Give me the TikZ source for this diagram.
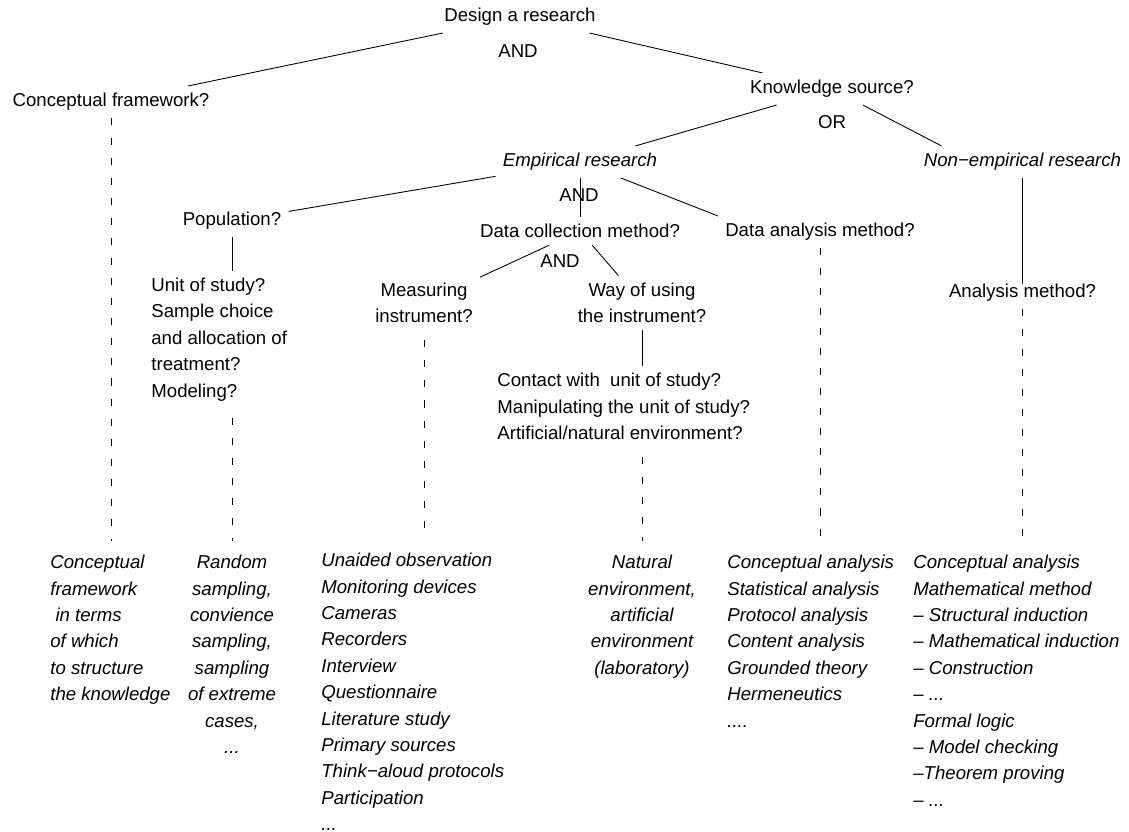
\documentclass[tikz,border=0pt]{standalone}
\usepackage{fontspec}
\setmainfont{Liberation Sans}
\usepackage{tikz}
\tikzstyle{question} = [inner sep=4pt, font=\fontsize{10.6}{15}\selectfont, align=center]
\tikzstyle{junction} = [inner sep=0pt, font=\fontsize{10.6}{15}\selectfont]
\tikzstyle{answer} = [inner sep=0pt, font=\fontsize{10.6}{15}\selectfont\itshape]
\tikzstyle{link} = [line width=0.5pt]
\tikzstyle{dashlink} = [line width=0.5pt, dash pattern=on 4pt off 7.4pt, shorten >=0.28cm]

\begin{document}
\begin{tikzpicture}
			\useasboundingbox (0,0) rectangle (22.58,-16.64);
			\node[question] (1) at (10.40,-0.34) {Design a research};
			\node[junction] (2) at (10.36,-1.02) {AND};
			\node[question] (3) at (2.22,-2.04) {Conceptual framework?};
			\node[question] (4) at (16.64,-1.78) {Knowledge source?};
			\node[junction] (5) at (16.64,-2.44) {OR};
			\node[question] (6) at (11.60,-3.24) {\textit{Empirical research}};
			\node[question] (7) at (20.45,-3.24) {\textit{Non−empirical research}};
			\node[junction] (8) at (11.58,-3.90) {AND};
			\node[question] (9) at (4.64,-4.42) {Population?};
			\node[question] (10) at (11.60,-4.62) {Data collection method?};
			\node[question] (11) at (16.40,-4.64) {Data analysis method?};
			\node[junction] (12) at (11.20,-5.22) {AND};
			\node[question] (13) at (8.48,-6.06) {Measuring\\instrument?};
			\node[question] (14) at (12.84,-6.06) {Way of using\\the instrument?};
			\node[question, align=left, anchor=west] (15) at (2.88,-6.79) {Unit of study?\\Sample choice\\and allocation of\\treatment?\\Modeling?};
			\node[question] (16) at (20.45,-5.86) {Analysis method?};
			\node[question, align=left, anchor=west] (17) at (9.80,-8.13) {Contact with\ \ unit of study?\\Manipulating the unit of study?\\Artificial/natural environment?};
			
			\node[answer, align=left, anchor=north west] (18) at (1.00,-11.10) {Conceptual\\framework\\\ in terms\\of which\\to structure\\the knowledge};
			\node[answer, align=center, anchor=north] (19) at (4.64,-11.10) {Random\\sampling,\\convience\\sampling,\\sampling\\of extreme\\cases,\\...};
			\node[answer, align=left, anchor=north west] (20) at (6.42,-11.06) {Unaided observation\\Monitoring devices\\Cameras\\Recorders\\Interview\\Questionnaire\\Literature study\\Primary sources\\Think−aloud protocols\\Participation\\...};
			\node[answer, align=center, anchor=north] (21) at (12.84,-11.10) {Natural\\environment,\\artificial\\environment\\(laboratory)};
			\node[answer, align=left, anchor=north west] (22) at (14.54,-11.10) {Conceptual analysis\\Statistical analysis\\Protocol analysis\\Content analysis\\Grounded theory\\Hermeneutics\\....};
			\node[answer, align=left, anchor=north west] (23) at (18.26,-11.10) {Conceptual analysis\\Mathematical method\\– Structural induction\\– Mathematical induction\\– Construction\\– ...\\Formal logic\\– Model checking\\–Theorem proving\\– ...};
			
			\draw [link] (1) -- (3);
			\draw [link] (1) -- (4);
			\draw [link] (4) -- (6);
			\draw [link] (4) -- ([xshift=0.5cm]7.north west);
			\draw [link] (6) -- (9);
			\draw [link] (6) -- (10);
			\draw [link] (6) -- (11.north west);
			\draw [link] (10) -- (13);
			\draw [link] (10) -- (14);
			\draw [link] (9) -- (9 |- 15.north);
			\draw [link] (14) -- (14 |- 17.north);
			\draw [link, shorten >=-0.15cm] (7) -- (16);
			
			\draw [dashlink] (3) -- (3 |- 18.north);
			\draw [dashlink, shorten <=0.2cm] (9 |- 15.south) -- (19);
			\draw [dashlink, shorten <=0.2cm] (13) -- (13 |- 20.north);
			\draw [dashlink, shorten <=0.2cm] (14 |- 17.south) -- (21);
			\draw [dashlink] (11) -- (11 |- 22.north);
			\draw [dashlink] (16) -- (16 |- 23.north);
			
		\end{tikzpicture}
\end{document}
